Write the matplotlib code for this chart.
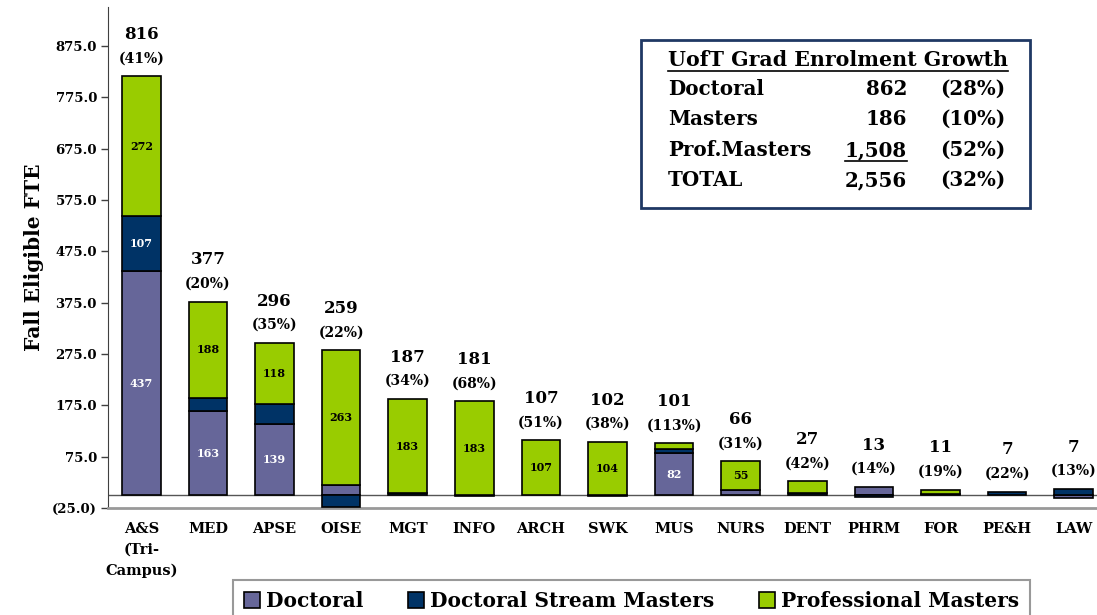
import matplotlib
matplotlib.use("Agg")
import matplotlib.pyplot as plt
import numpy as np
from matplotlib.lines import Line2D
from matplotlib.patches import Patch, Rectangle


CATEGORIES = ["A&S\n(Tri-\nCampus)", "MED", "APSE", "OISE", "MGT", "INFO", "ARCH",
              "SWK", "MUS", "NURS", "DENT", "PHRM", "FOR", "PE&H", "LAW"]
DOCTORAL = [437, 163, 139, 19, 0, 0, 0, 0, 82, 11, 0, 16, 0, 0, -5]
DOC_STREAM = [107, 26, 39, -23, 4, -2, 0, -2, 8, 0, 5, -3, 2, 7, 12]
PROF_MASTERS = [272, 188, 118, 263, 183, 183, 107, 104, 11, 55, 22, 0, 9, 0, 0]
TOTALS = [816, 377, 296, 259, 187, 181, 107, 102, 101, 66, 27, 13, 11, 7, 7]
GROWTH_PCT = [41, 20, 35, 22, 34, 68, 51, 38, 113, 31, 42, 14, 19, 22, 13]

Y_TICKS = [-25, 75, 175, 275, 375, 475, 575, 675, 775, 875]

TABLE_TITLE = "UofT Grad Enrolment Growth"
TABLE_ROWS = ["Doctoral", "Masters", "Prof.Masters", "TOTAL"]
TABLE_VALUES = ["862", "186", "1,508", "2,556"]
TABLE_PCT = ["(28%)", "(10%)", "(52%)", "(32%)"]

SERIES = [
    ("Doctoral", DOCTORAL, "#666699", "white"),
    ("Doctoral Stream Masters", DOC_STREAM, "#003366", "white"),
    ("Professional Masters", PROF_MASTERS, "#99CC00", "black"),
]

FONT = "DejaVu Serif"
W, H = 1097, 615


def fx(px):
    return px / W


def fy(py):
    return 1 - py / H


def main() -> None:
    fig = plt.figure(figsize=(W / 100, H / 100), dpi=100)
    ax = fig.add_axes([fx(108), fy(508), (1097 - 108) / W, (508 - 7) / H])

    x = np.arange(len(CATEGORIES))
    pos_base = np.zeros(len(x))
    neg_base = np.zeros(len(x))

    for name, values, color, txt_color in SERIES:
        vals = np.array(values, dtype=float)
        bottoms = np.where(vals >= 0, pos_base, neg_base)
        mask = vals != 0
        ax.bar(x[mask], vals[mask], bottom=bottoms[mask], width=0.58, color=color,
               edgecolor="black", linewidth=1.2, zorder=3)
        for xi, v, b in zip(x, vals, bottoms):
            if abs(v) >= 50:
                ax.text(xi, b + v / 2, f"{v:.0f}", ha="center", va="center", fontsize=8,
                        fontweight="bold", family=FONT, color=txt_color, zorder=4)
        pos_base += np.where(vals > 0, vals, 0)
        neg_base += np.where(vals < 0, vals, 0)

    for xi, top, total, pct in zip(x, pos_base, TOTALS, GROWTH_PCT):
        ax.annotate(f"{total}", xy=(xi, top), xytext=(0, 30), textcoords="offset points",
                    ha="center", va="center", fontsize=12, fontweight="bold", family=FONT)
        ax.annotate(f"({pct}%)", xy=(xi, top), xytext=(0, 13), textcoords="offset points",
                    ha="center", va="center", fontsize=10, fontweight="bold", family=FONT)

    ax.axhline(0, color="#555555", linewidth=1, zorder=2)

    ax.set_xlim(-0.5, 14.35)
    ax.set_ylim(-25, 951)
    ax.set_yticks(Y_TICKS)
    ax.set_yticklabels([f"({abs(v):.1f})" if v < 0 else f"{v:.1f}" for v in Y_TICKS])
    ax.set_xticks(x)
    ax.set_xticklabels(CATEGORIES)
    ax.tick_params(axis="x", length=0, pad=10)
    ax.tick_params(axis="y", length=5, width=1, color="#404040", pad=3)
    for lab in ax.get_yticklabels():
        lab.set_family(FONT)
        lab.set_fontweight("bold")
        lab.set_fontsize(9.5)
    for lab in ax.get_xticklabels():
        lab.set_family(FONT)
        lab.set_fontweight("bold")
        lab.set_fontsize(10.5)
        lab.set_linespacing(1.6)

    for side in ("top", "right"):
        ax.spines[side].set_visible(False)
    ax.spines["left"].set_color("#404040")
    ax.spines["bottom"].set_color("#999999")
    ax.spines["bottom"].set_linewidth(2)

    ax.set_ylabel("Fall Eligible FTE", fontsize=14.5, fontweight="bold", family=FONT, labelpad=6)

    # summary table box
    fig.add_artist(Rectangle((fx(641), fy(208)), (1030 - 641) / W, (208 - 40) / H,
                             transform=fig.transFigure, facecolor="white",
                             edgecolor="#1F3864", linewidth=2, zorder=5))
    title = fig.text(fx(668), fy(60), TABLE_TITLE, ha="left", va="center", fontsize=14.8,
                     fontweight="bold", family=FONT, zorder=6)
    row_y = [89, 119, 150, 180]
    underline = []
    for label, val, pct, py in zip(TABLE_ROWS, TABLE_VALUES, TABLE_PCT, row_y):
        fig.text(fx(668), fy(py), label, ha="left", va="center", fontsize=14.3,
                 fontweight="bold", family=FONT, zorder=6)
        t = fig.text(fx(907), fy(py), val, ha="right", va="center", fontsize=14.3,
                     fontweight="bold", family=FONT, zorder=6)
        fig.text(fx(1005), fy(py), pct, ha="right", va="center", fontsize=14.3,
                 fontweight="bold", family=FONT, zorder=6)
        if val == "1,508":
            underline.append(t)

    renderer = fig.canvas.get_renderer()
    for t in [title] + underline:
        bb = t.get_window_extent(renderer)
        yy = (bb.y0 - 1) / H
        fig.add_artist(Line2D([bb.x0 / W, bb.x1 / W], [yy, yy], transform=fig.transFigure,
                              color="black", linewidth=1.2, zorder=6))

    handles = [Patch(facecolor=c, edgecolor="black", linewidth=1.2) for _, _, c, _ in SERIES]
    leg = fig.legend(handles, [s[0] for s in SERIES], loc="upper left",
                     bbox_to_anchor=(fx(233), fy(580)), ncol=3, frameon=True, fancybox=False,
                     handlelength=0.8, handleheight=0.8, handletextpad=0.3, columnspacing=2.2,
                     borderpad=0.55, borderaxespad=0,
                     prop={"family": FONT, "weight": "bold", "size": 14.5})
    leg.get_frame().set_edgecolor("#808080")
    leg.get_frame().set_linewidth(1.5)

    fig.savefig("out.png", dpi=100)
    plt.close(fig)


if __name__ == "__main__":
    main()
